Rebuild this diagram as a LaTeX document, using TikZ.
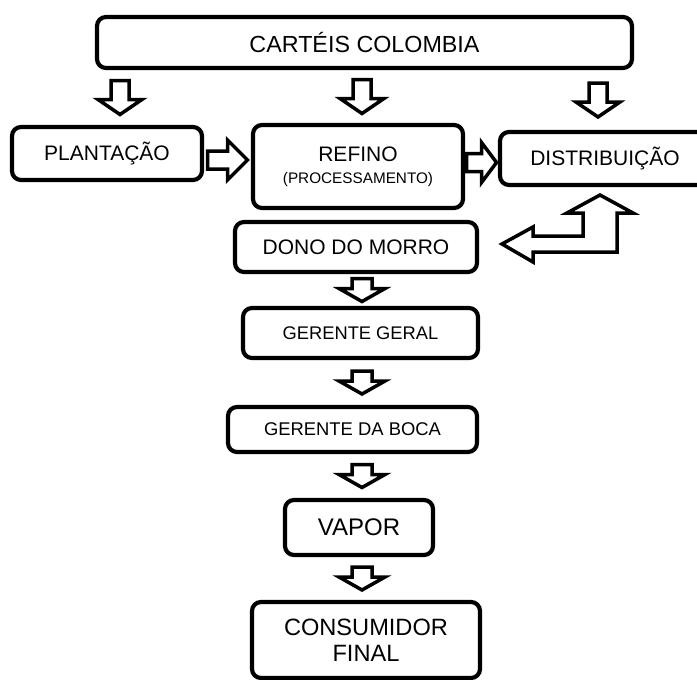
\documentclass[tikz,border=0pt]{standalone}
\usepackage{fontspec}
\setmainfont{Liberation Sans}
\usetikzlibrary{calc}

\begin{document}
\begin{tikzpicture}[x=1pt,y=-1pt,
  box/.style={draw,line width=4.2pt,rounded corners=9pt,align=center,inner sep=0pt},
  blk/.style={draw,line width=3.5pt,fill=white},
  bigdown/.pic={\draw[blk] (-9,-17) -- (-9,2) -- (-22,2) -- (0,17) -- (22,2) -- (9,2) -- (9,-17) -- cycle;},
  smalldown/.pic={\draw[blk] (-10,-11.5) -- (-10,-1.5) -- (-23,-1.5) -- (0,11.5) -- (23,-1.5) -- (10,-1.5) -- (10,-11.5) -- cycle;},
  blkright/.pic={\draw[blk] (-20,-9) -- (0,-9) -- (0,-20) -- (20,0) -- (0,20) -- (0,9) -- (-20,9) -- cycle;}]
  \clip (0,0) rectangle (697,680);
  % boxes
  \node[box,minimum width=535pt,minimum height=51pt,font=\fontsize{23.3}{28}\selectfont] (top) at (364.5,42.5) {CARTÉIS COLOMBIA};
  \node[box,minimum width=190pt,minimum height=53pt,font=\fontsize{21}{25}\selectfont] (plant) at (107,153.5) {PLANTAÇÃO};
  \node[box,minimum width=210pt,minimum height=83pt,font=\fontsize{21}{25}\selectfont] (refino) at (358,166.5) {REFINO\\[-3pt]{\fontsize{15.3}{18}\selectfont(PROCESSAMENTO)}};
  \node[box,minimum width=210pt,minimum height=53pt,font=\fontsize{21}{25}\selectfont] (distrib) at (605,158.5) {DISTRIBUIÇÃO};
  \node[box,minimum width=242pt,minimum height=50pt,font=\fontsize{21}{25}\selectfont] (dono) at (356,247) {DONO DO MORRO};
  \node[box,minimum width=235pt,minimum height=50pt,font=\fontsize{18.3}{22}\selectfont] (geral) at (360.5,333) {GERENTE GERAL};
  \node[box,minimum width=249pt,minimum height=45pt,font=\fontsize{18.4}{22}\selectfont] (boca) at (352.5,429.5) {GERENTE DA BOCA};
  \node[box,minimum width=148pt,minimum height=55pt,font=\fontsize{24}{29}\selectfont] (vapor) at (359,527.5) {VAPOR};
  \node[box,minimum width=228pt,minimum height=76pt,font=\fontsize{23.6}{26}\selectfont] (cons) at (366,640) {CONSUMIDOR\\FINAL};
  % block arrows
  \coordinate (lx) at (120,0);
  \coordinate (spine) at (362,0);
  \coordinate (rx) at (598,0);
  \pic at ($(top.south -| lx)!.5!(plant.north -| lx)$) {bigdown};
  \pic at ($(top.south -| spine)!.5!(refino.north -| spine)$) {bigdown};
  \pic at ($(top.south -| rx)!.5!(distrib.north -| rx)$) {bigdown};
  \pic at ($(plant.east)!.5!(refino.west)$) {blkright};
  \pic[xscale=.75] at ($(refino.east)!.5!(distrib.west)$) {blkright};
  \pic at ($(dono.south -| spine)!.5!(geral.north -| spine)$) {smalldown};
  \pic at ($(geral.south -| spine)!.5!(boca.north -| spine)$) {smalldown};
  \pic at ($(boca.south -| spine)!.5!(vapor.north -| spine)$) {smalldown};
  \pic at ($(vapor.south -| spine)!.5!(cons.north -| spine)$) {smalldown};
  % distribuicao <-> dono do morro
  \draw[blk] (502,244) -- (533,227) -- (533,236) -- (583,236) -- (583,213) -- (567,213)
    -- (600,195) -- (633,213) -- (617,213) -- (617,252) -- (533,252) -- (533,262) -- cycle;
\end{tikzpicture}
\end{document}
